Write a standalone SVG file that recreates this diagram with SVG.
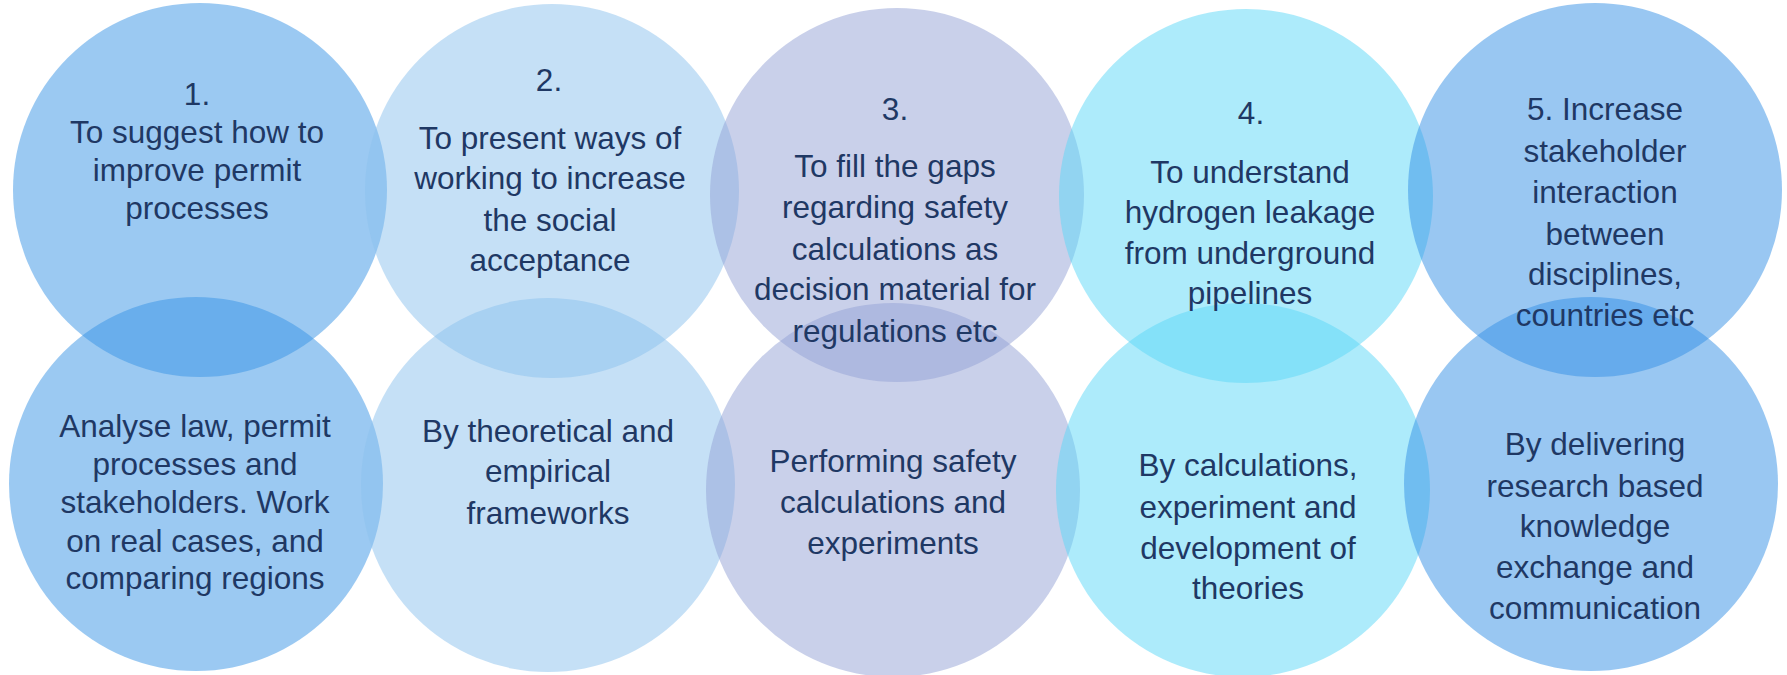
<svg xmlns="http://www.w3.org/2000/svg" width="1787" height="675" viewBox="0 0 1787 675">
<style>
text{font-family:"Liberation Sans",Arial,sans-serif;font-size:31.5px;fill:#1F3864;text-anchor:middle}
.c1{fill:#3793E5;fill-opacity:0.5}
.c2{fill:#8BC1ED;fill-opacity:0.5}
.c3{fill:#93A1D5;fill-opacity:0.5}
.c4{fill:#5BD7F7;fill-opacity:0.5}
.c5{fill:#338FE5;fill-opacity:0.5}
</style>
<rect width="1787" height="675" fill="#FFFFFF"/>
<g id="method1"><circle class="c1" cx="196" cy="484" r="187"/>
<text><tspan x="195" y="437">Analyse law, permit</tspan><tspan x="195" y="475">processes and</tspan><tspan x="195" y="513">stakeholders. Work</tspan><tspan x="195" y="552">on real cases, and</tspan><tspan x="195" y="589">comparing regions</tspan></text></g>
<g id="method2"><circle class="c2" cx="548" cy="485" r="187"/>
<text><tspan x="548" y="442">By theoretical and</tspan><tspan x="548" y="482">empirical</tspan><tspan x="548" y="524">frameworks</tspan></text></g>
<g id="method3"><circle class="c3" cx="893" cy="490" r="187"/>
<text><tspan x="893" y="472">Performing safety</tspan><tspan x="893" y="513">calculations and</tspan><tspan x="893" y="554">experiments</tspan></text></g>
<g id="method4"><circle class="c4" cx="1243" cy="490" r="187"/>
<text><tspan x="1248" y="476">By calculations,</tspan><tspan x="1248" y="518">experiment and</tspan><tspan x="1248" y="559">development of</tspan><tspan x="1248" y="599">theories</tspan></text></g>
<g id="method5"><circle class="c5" cx="1591" cy="484" r="187"/>
<text><tspan x="1595" y="455">By delivering</tspan><tspan x="1595" y="497">research based</tspan><tspan x="1595" y="537">knowledge</tspan><tspan x="1595" y="578">exchange and</tspan><tspan x="1595" y="619">communication</tspan></text></g>
<g id="goal1"><circle class="c1" cx="200" cy="190" r="187"/>
<text><tspan x="197" y="105">1.</tspan><tspan x="197" y="143">To suggest how to</tspan><tspan x="197" y="181">improve permit</tspan><tspan x="197" y="219">processes</tspan></text></g>
<g id="goal2"><circle class="c2" cx="552" cy="191" r="187"/>
<text><tspan x="549" y="91">2.</tspan><tspan x="550" y="149">To present ways of</tspan><tspan x="550" y="189">working to increase</tspan><tspan x="550" y="231">the social</tspan><tspan x="550" y="271">acceptance</tspan></text></g>
<g id="goal3"><circle class="c3" cx="897" cy="195" r="187"/>
<text><tspan x="895" y="120">3.</tspan><tspan x="895" y="177">To fill the gaps</tspan><tspan x="895" y="218">regarding safety</tspan><tspan x="895" y="260">calculations as</tspan><tspan x="895" y="300">decision material for</tspan><tspan x="895" y="342">regulations etc</tspan></text></g>
<g id="goal4"><circle class="c4" cx="1246" cy="196" r="187"/>
<text><tspan x="1251" y="124">4.</tspan><tspan x="1250" y="183">To understand</tspan><tspan x="1250" y="223">hydrogen leakage</tspan><tspan x="1250" y="264">from underground</tspan><tspan x="1250" y="304">pipelines</tspan></text></g>
<g id="goal5"><circle class="c5" cx="1595" cy="190" r="187"/>
<text><tspan x="1605" y="120">5. Increase</tspan><tspan x="1605" y="162">stakeholder</tspan><tspan x="1605" y="203">interaction</tspan><tspan x="1605" y="245">between</tspan><tspan x="1605" y="285">disciplines,</tspan><tspan x="1605" y="326">countries etc</tspan></text></g>
<g id="connectors"></g>
</svg>
